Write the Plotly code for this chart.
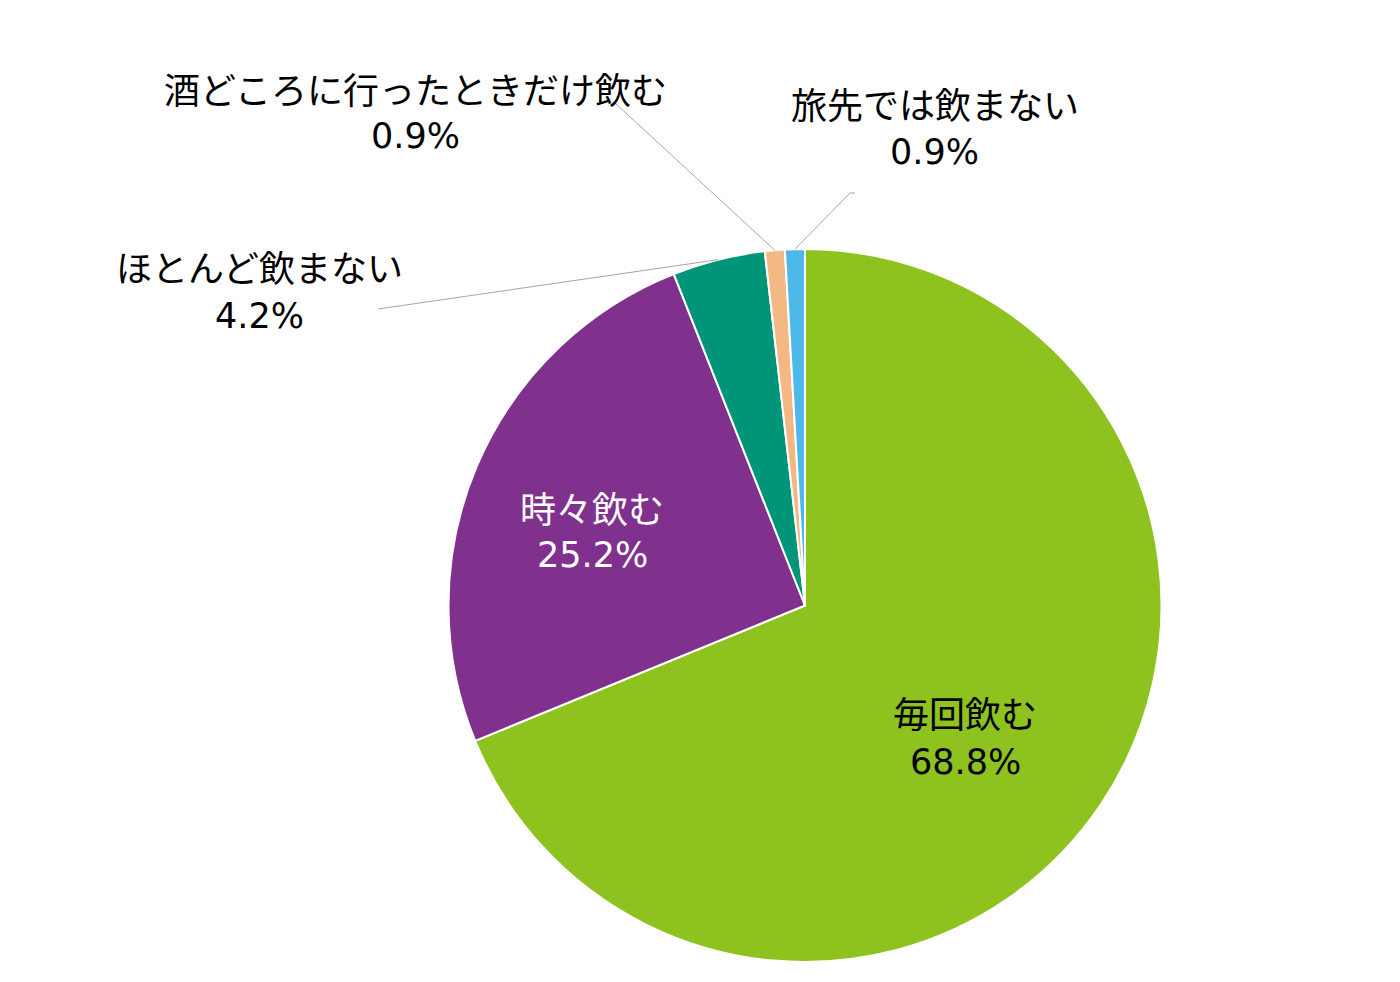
import math
import plotly.graph_objects as go

categories = ["毎回飲む", "時々飲む", "ほとんど飲まない", "酒どころに行ったときだけ飲む", "旅先では飲まない"]
values = [68.8, 25.2, 4.2, 0.9, 0.9]
colors = ["#8DC21F", "#7F318D", "#009579", "#F4B884", "#4FB8EA"]
text_colors = ["#000000", "#FFFFFF", "#000000", "#000000", "#000000"]

W, H = 1400, 982
CX, CY, R = 805, 605.5, 356.5

# label positions (pixels): x centre, y of name line, y of value line
label_pos = [(965, 712, 762), (592, 507, 555), (259, 266, 316), (415, 88, 136), (935, 103, 152)]
leader_start = [None, None, [(378, 309)], [(615, 103)], [(855, 193), (850, 193)]]

def px(x):
    return x / W

def py(y):
    return 1 - y / H

fig = go.Figure()
fig.add_trace(go.Pie(
    labels=categories,
    values=values,
    sort=False,
    direction="clockwise",
    rotation=0,
    marker=dict(colors=colors, line=dict(color="#FFFFFF", width=2)),
    textinfo="none",
    hoverinfo="label+percent",
    showlegend=False,
    domain=dict(x=[px(CX - R), px(CX + R)], y=[py(CY + R), py(CY - R)]),
))

total = sum(values)
cum = 0.0
annotations = []
shapes = []
for i, (cat, v) in enumerate(zip(categories, values)):
    mid = (cum + v / 2) / total * 2 * math.pi
    cum += v
    lx, ly1, ly2 = label_pos[i]
    annotations.append(dict(
        x=px(lx), y=py(ly1), xref="paper", yref="paper",
        text=cat, showarrow=False,
        font=dict(family="Noto Sans CJK JP", size=36, color=text_colors[i]),
        xanchor="center", yanchor="middle",
    ))
    annotations.append(dict(
        x=px(lx), y=py(ly2), xref="paper", yref="paper",
        text=f"{v:.1f}%", showarrow=False,
        font=dict(family="DejaVu Sans", size=35, color=text_colors[i]),
        xanchor="center", yanchor="middle",
    ))
    if leader_start[i]:
        ex = CX + R * math.sin(mid)
        ey = CY - R * math.cos(mid)
        pts = leader_start[i] + [(ex, ey)]
        for (x0, y0), (x1, y1) in zip(pts[:-1], pts[1:]):
            shapes.append(dict(
                type="line", xref="paper", yref="paper",
                x0=px(x0), y0=py(y0), x1=px(x1), y1=py(y1),
                line=dict(color="#A6A6A6", width=1),
            ))

fig.update_layout(
    width=W, height=H,
    margin=dict(l=0, r=0, t=0, b=0),
    paper_bgcolor="#FFFFFF",
    plot_bgcolor="#FFFFFF",
    annotations=annotations,
    shapes=shapes,
)

fig.write_html("out.html")
